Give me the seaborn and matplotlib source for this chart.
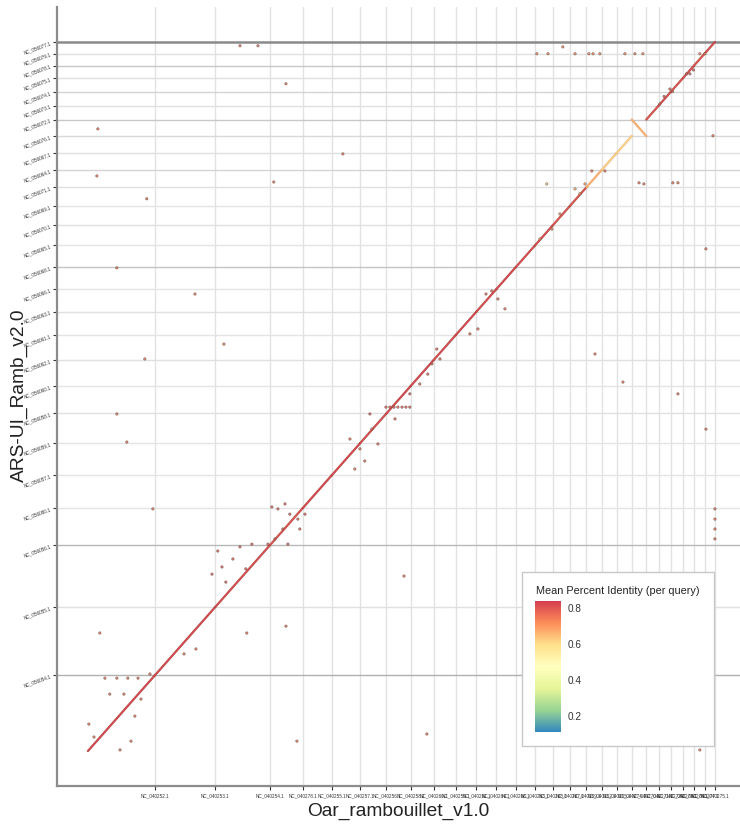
import numpy as np
import pandas as pd
import matplotlib
matplotlib.use("Agg")
import matplotlib.pyplot as plt
import matplotlib.patheffects as pe
import seaborn as sns
from matplotlib.colors import LinearSegmentedColormap, Normalize
from matplotlib.patches import Rectangle

# Chromosomes, ordered by length (Mb), shared layout of both assemblies
chrom_names = ["1", "2", "3", "X", "4", "6", "5", "7", "9", "8", "10", "13", "15", "12",
               "17", "16", "18", "11", "14", "23", "19", "20", "21", "22", "25", "26", "24"]
ref_len = [275, 249, 224, 135, 119, 117, 108, 100, 94, 90, 86, 82, 80, 79,
           72, 71, 68, 62, 62, 62, 60, 51, 50, 50, 45, 44, 42]
qry_len = [275, 249, 224, 135, 119, 117, 108, 100, 94, 90, 86, 82, 80, 79,
           72, 71, 68, 62, 62, 62, 60, 51, 50, 50, 45, 44, 42]
ref_ids = ["NC_040278.1" if c == "X" else "NC_0402%d.1" % (51 + int(c)) for c in chrom_names]
qry_ids = ["NC_056080.1" if c == "X" else "NC_0560%d.1" % (53 + int(c)) for c in chrom_names]

# Mean identity and strand of the main (syntenic) alignment on each chromosome
diag_identity = [0.82, 0.82, 0.81, 0.80, 0.82, 0.82, 0.81, 0.82, 0.82, 0.81, 0.82, 0.81, 0.82, 0.81,
                 0.81, 0.80, 0.80, 0.66, 0.61, 0.60, 0.66, 0.80, 0.81, 0.80, 0.81, 0.80, 0.81]
diag_strand = ["+"] * 20 + ["-"] + ["+"] * 6

# Off-diagonal and scattered hits (genome-wide Mb positions)
hit_x = [41, 37, 242, 119, 440, 764, 1048, 234, 559, 119, 160, 267, 49, 653, 859, 1393, 1299, 814,
         2084, 2199, 2265, 2285, 2404, 2425, 2071, 2125,
         1845, 1891, 1952, 2002, 2059, 2076, 2104, 2207, 2248, 2281, 2515, 2536,
         625, 699, 814, 2569, 2540, 2540, 2425, 2577, 2577, 2577, 2577, 2515, 395, 444, 255, 218,
         70, 119, 164, 206, 90, 148, 4, 25, 193, 177, 132,
         534, 551, 567, 596, 625, 674, 649, 510,
         756, 781, 810, 830, 863, 871, 801, 769, 822, 740, 892,
         1077, 1118, 1138, 1167, 1097, 1192,
         1225, 1241, 1258, 1274, 1291, 1307, 1323, 1159, 1262, 1323,
         1397, 1414, 1447, 1434, 1364,
         1570, 1603, 1636, 1660, 1685, 1714,
         1858, 1886, 1907, 1940, 2002, 2022, 2043,
         2351, 2392, 2474, 2403, 2368, 2489, 2460]
hit_y = [2261, 2090, 2007, 1756, 1661, 2068, 2170, 1425, 1479, 1225, 1123, 880, 429, 429, 36, 62, 636, 454,
         1443, 1341, 2065, 2061, 2065, 2065, 2108, 2108,
         2534, 2534, 2559, 2534, 2534, 2534, 2534, 2534, 2534, 2534, 2534, 2534,
         2563, 2563, 2425, 2236, 1825, 1170, 1298, 880, 843, 807, 771, 4, 353, 371, 280, 189,
         265, 265, 265, 265, 207, 207, 98, 51, 127, 36, 4,
         727, 669, 614, 698, 742, 752, 662, 643,
         887, 880, 898, 861, 843, 807, 807, 771, 752, 752, 861,
         1134, 1098, 1054, 1170, 1025, 1116,
         1250, 1250, 1250, 1250, 1250, 1250, 1250, 1225, 1207, 1298,
         1370, 1407, 1425, 1461, 1334,
         1516, 1534, 1661, 1672, 1643, 1607,
         1861, 2061, 1897, 1952, 2043, 2025, 2061,
         2352, 2406, 2461, 2397, 2379, 2475, 2461]
hit_identity = [0.75] * 26 + [0.72] * 12 + [0.75] * 27 + [0.78] * 8 + [0.78] * 11 + [0.76] * 6 + \
               [0.78] * 10 + [0.77] * 5 + [0.76] * 6 + [0.70, 0.62, 0.72, 0.70, 0.66, 0.70, 0.68] + [0.78] * 7

sns.set_theme(style="white")
plt.rcParams["font.family"] = ["Liberation Sans", "DejaVu Sans"]

spectral7 = ["#3288BD", "#99D594", "#E6F598", "#FFFFBF", "#FEE08B", "#FC8D59", "#D53E4F"]
cmap = LinearSegmentedColormap.from_list("spectral_distiller", spectral7)
norm = Normalize(vmin=0.105, vmax=0.835)

ref_end = np.cumsum(ref_len)
ref_start = ref_end - np.array(ref_len)
qry_end = np.cumsum(qry_len)
qry_start = qry_end - np.array(qry_len)

fig = plt.figure(figsize=(7.4, 8.28), dpi=100)
ax = fig.add_axes([57 / 740, 41 / 828, 683 / 740, 779 / 828])

# chromosome boundary lines
for xe in ref_end:
    ax.axvline(xe, color="#e2e2e2", lw=1.0, zorder=0)
h_grays = ["#b0b0b0", "#e0e0e0", "#b8b8b8", "#e4e4e4", "#e4e4e4", "#e4e4e4", "#e0e0e0", "#e4e4e4",
           "#e0e0e0", "#e4e4e4", "#e0e0e0", "#e4e4e4", "#c4c4c4", "#e4e4e4", "#e0e0e0", "#e4e4e4",
           "#e0e0e0", "#d4d4d4", "#e0e0e0", "#d8d8d8", "#c8c8c8", "#e0e0e0", "#d4d4d4", "#e0e0e0",
           "#c8c8c8", "#e0e0e0", "#8a8a8a"]
for ye, g in zip(qry_end, h_grays):
    ax.axhline(ye, color=g, lw=1.8 if g == "#8a8a8a" else 1.0, zorder=0)

# main alignments along the diagonal
diag = pd.DataFrame({"x0": ref_start, "x1": ref_end, "y0": qry_start, "y1": qry_end,
                     "identity": diag_identity, "strand": diag_strand})
for r in diag.itertuples():
    ys = (r.y0, r.y1) if r.strand == "+" else (r.y1, r.y0)
    seg = pd.DataFrame({"x": [r.x0, r.x1], "y": list(ys)})
    col = cmap(norm(r.identity))
    edge = "#8a3a2c" if r.identity > 0.75 else "#d99a6a"
    sns.lineplot(data=seg, x="x", y="y", color=col, lw=1.1, ax=ax, zorder=3,
                 estimator=None, sort=False,
                 path_effects=[pe.Stroke(linewidth=1.6, foreground=edge, alpha=0.8), pe.Normal()])

hits = pd.DataFrame({"x": hit_x, "y": hit_y, "identity": hit_identity})
sns.scatterplot(data=hits, x="x", y="y", hue="identity", palette=cmap, hue_norm=norm,
                s=3, edgecolor="#5a504c", linewidth=0.4, alpha=0.85, legend=False, ax=ax, zorder=4)

ax.set_xlim(-127, 2680)
ax.set_ylim(-127, 2704)
ax.set_xticks(ref_end)
ax.set_xticklabels(ref_ids, fontsize=3.3, color="#333333")
ax.set_yticks(qry_end)
ax.set_yticklabels(qry_ids, fontsize=3.3, color="#333333", rotation=20,
                   ha="right", va="center", rotation_mode="anchor")
ax.tick_params(axis="both", which="both", length=3, width=0.8, color="#333333", pad=1.5,
               bottom=True, left=True)
for s in ("top", "right"):
    ax.spines[s].set_visible(False)
for s in ("left", "bottom"):
    ax.spines[s].set_color("#8c8c8c")
    ax.spines[s].set_linewidth(1.6)

ax.set_xlabel("Oar_rambouillet_v1.0", fontsize=13.8, color="#222222")
ax.set_ylabel("ARS-UI_Ramb_v2.0", fontsize=13.8, color="#222222")
ax.xaxis.set_label_coords(0.499, -0.02)
ax.yaxis.set_label_coords(-0.043, 0.503)

# colour legend box
fig.add_artist(Rectangle((522 / 740, 81 / 828), 192 / 740, 174 / 828, transform=fig.transFigure,
                         facecolor="white", edgecolor="#c8c8c8", lw=1.0, zorder=2))
fig.text(536 / 740, 1 - 591 / 828, "Mean Percent Identity (per query)", fontsize=7.8,
         color="#222222", va="center", ha="left", zorder=3)
cax = fig.add_axes([535 / 740, 95 / 828, 26 / 740, 131 / 828], zorder=3)
sm = plt.cm.ScalarMappable(norm=norm, cmap=cmap)
cb = fig.colorbar(sm, cax=cax, ticks=[0.2, 0.4, 0.6, 0.8])
cb.outline.set_visible(False)
cb.ax.tick_params(length=0, labelsize=7.2, colors="#333333", pad=5)
cb.ax.set_yticklabels(["0.2", "0.4", "0.6", "0.8"])

# panel letter, mostly outside the top edge
fig.text(13 / 740, 1 - 0.5 / 828, "B", fontsize=22, fontweight="bold", va="baseline", ha="left")

fig.savefig("out.png", dpi=100)
